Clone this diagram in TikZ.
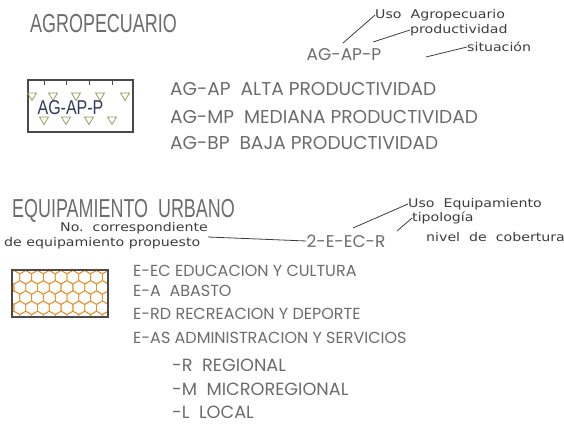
\documentclass[tikz,border=0pt]{standalone}
\usepackage{fontspec}
\setmainfont{Poppins}
\newfontfamily\annfont{DejaVu Sans}
\newfontfamily\titlefont{Liberation Sans}
\definecolor{txtgray}{HTML}{6C6C6C}
\definecolor{anngray}{HTML}{3C3C3C}
\definecolor{boxgray}{HTML}{4A4A4A}
\definecolor{olive}{HTML}{8A9A50}
\definecolor{hexorange}{HTML}{E8902A}
\definecolor{navy}{HTML}{2E3A5C}
\newcommand{\annx}[1]{\scalebox{1.18}[1]{#1}}
\tikzset{
  titletext/.style={anchor=west, inner sep=0pt, text=txtgray, font=\titlefont\fontsize{26}{26}\selectfont},
  agtext/.style={anchor=west, inner sep=0pt, text=txtgray, font=\fontsize{18.6}{18.6}\selectfont},
  eqtext/.style={anchor=west, inner sep=0pt, text=txtgray, font=\fontsize{16}{16}\selectfont},
  lvtext/.style={anchor=west, inner sep=0pt, text=txtgray, font=\fontsize{17.7}{17.7}\selectfont},
  anntext/.style={anchor=west, inner sep=0pt, text=anngray, font=\annfont\fontsize{12}{12}\selectfont},
  codetext/.style={anchor=center, inner sep=0pt, text=txtgray, font=\fontsize{17}{17}\selectfont},
  lead/.style={draw=anngray, line width=0.8pt},
  legendbox/.style={draw=boxgray, line width=2.2pt, inner sep=0pt},
  tri/.style={draw=olive, line width=0.7pt},
  hex/.style={draw=hexorange, line width=0.8pt},
}
\begin{document}
\begin{tikzpicture}[x=1pt,y=-1pt]
\useasboundingbox (0,0) rectangle (564,423);
% ---------- AGROPECUARIO ----------
\node[titletext] (agro) at (30,24) {\scalebox{0.69}[1]{AGROPECUARIO}};
\node[legendbox, minimum width=105pt, minimum height=52pt] (abox) at (80.5,106) {};
\foreach \x in {32,53,76,100,125} {
  \draw[tri] (\x-4.5,93) -- (\x+4.5,93) -- (\x,100.5) -- cycle;
}
\foreach \x in {44,66,89,112} {
  \draw[tri] (\x-4.5,117) -- (\x+4.5,117) -- (\x,124.5) -- cycle;
  \draw[boxgray, line width=0.8pt] (\x,81) -- (\x,85);
}
\node[inner sep=0pt, text=navy, font=\titlefont\fontsize{20}{20}\selectfont] (alabel) at (70.5,108) {\scalebox{0.8}[1]{AG-AP-P}};
\node[codetext] (agcode) at (344,55) {AG-AP-P};
\node[anntext] (usoA) at (375,15) {\annx{Uso\ \ Agropecuario}};
\node[anntext] (prod) at (410,30) {\annx{productividad}};
\node[anntext] (sit) at (467,47) {\annx{situación}};
\coordinate (la1) at (343,43);
\coordinate (la2) at (373,42);
\coordinate (la3) at (426,57);
\draw[lead] (la1) -- (usoA.west);
\draw[lead] (la2) -- (prod.west);
\draw[lead] (la3) -- (sit.west);
\node[agtext] (ap) at (170,89) {AG-AP\ \ ALTA PRODUCTIVIDAD};
\node[agtext] (mp) at (170,117) {AG-MP\ \ MEDIANA PRODUCTIVIDAD};
\node[agtext] (bp) at (170,143) {AG-BP\ \ BAJA PRODUCTIVIDAD};
% ---------- EQUIPAMIENTO URBANO ----------
\node[titletext] (equip) at (12,211) {\scalebox{0.69}[1]{EQUIPAMIENTO\ \ URBANO}};
\node[anntext] (nocorr) at (60,228) {\annx{No.\ \ correspondiente}};
\node[anntext] (deeq) at (4,243) {\annx{de equipamiento propuesto}};
\node[codetext] (ecode) at (346,241) {2-E-EC-R};
\node[anntext] (usoE) at (408,204) {\annx{Uso\ \ Equipamiento}};
\node[anntext] (tipo) at (412,218) {\annx{tipología}};
\node[anntext] (nivel) at (426,237) {\annx{nivel\ \ de\ \ cobertura}};
\coordinate (le1) at (208,237);
\coordinate (le2) at (353,228);
\coordinate (le3) at (397,231);
\draw[lead] (le1) -- (ecode.west);
\draw[lead] (le2) -- (usoE.west);
\draw[lead] (le3) -- (tipo.west);
\node[minimum width=96pt, minimum height=47pt, inner sep=0pt] (ebox) at (60,293.5) {};
\begin{scope}
  \clip (ebox.south west) rectangle (ebox.north east);
  \foreach \row in {0,...,6} {
    \foreach \col in {0,...,10} {
      \pgfmathsetmacro{\cx}{8+\col*11.8+mod(\row,2)*5.9}
      \pgfmathsetmacro{\cy}{267+\row*10.2}
      \draw[hex] (\cx,\cy) +(90:6.8) -- +(150:6.8) -- +(210:6.8) -- +(270:6.8) -- +(330:6.8) -- +(30:6.8) -- cycle;
    }
  }
\end{scope}
\draw[legendbox] (ebox.south west) rectangle (ebox.north east);
\node[eqtext] (eec) at (133,271) {E-EC EDUCACION Y CULTURA};
\node[eqtext] (ea) at (133,291) {E-A\ \ ABASTO};
\node[eqtext] (erd) at (133,314) {E-RD RECREACION Y DEPORTE};
\node[eqtext] (eas) at (133,338) {E-AS ADMINISTRACION Y SERVICIOS};
\node[lvtext] (r) at (172,365) {-R\ \ REGIONAL};
\node[lvtext] (m) at (172,389) {-M\ \ MICROREGIONAL};
\node[lvtext] (l) at (172,412) {-L\ \ LOCAL};
\end{tikzpicture}
\end{document}
